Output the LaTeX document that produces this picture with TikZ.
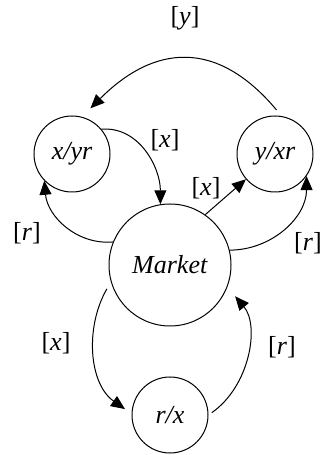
\documentclass[tikz,border=0pt]{standalone}
\usepackage{fontspec}
\setmainfont{Liberation Serif}
\usetikzlibrary{arrows.meta}

\begin{document}
\begin{tikzpicture}[
    x=1pt, y=1pt,
    font=\fontsize{26}{30}\selectfont,
    state/.style={draw, circle, line width=1pt, minimum size=76pt, inner sep=0pt},
    big/.style={state, minimum size=122pt},
    arr/.style={-{Triangle[length=14pt,width=12pt]}, line width=1pt},
    lbl/.style={inner sep=0pt}
]
\useasboundingbox (0,0) rectangle (324,455);

\node[big] (market) at (170,190) {\textit{Market}};
\node[state] (xyr) at (72,301) {\textit{x/yr}};
\node[state] (yxr) at (275,301) {\textit{y/xr}};
\node[state] (rx) at (170,40) {\textit{r/x}};

\node[lbl] (ly) at (185,437) {[\textit{y}]};
\node[lbl] (lxa) at (165,315) {[\textit{x}]};
\node[lbl] (lxb) at (206,267) {[\textit{x}]};
\node[lbl] (lra) at (27,222) {[\textit{r}]};
\node[lbl] (lrb) at (308,212) {[\textit{r}]};
\node[lbl] (lxc) at (56,112) {[\textit{x}]};
\node[lbl] (lrc) at (282,108) {[\textit{r}]};

\draw[arr, shorten <=8pt, shorten >=12pt] (yxr.80) to[out=130, in=45, looseness=1.3] (xyr.75);
\draw[arr] (xyr.40) to[out=5, in=90] (market.99);
\draw[arr] (market.55) -- (yxr.221);
\draw[arr] (market.158) to[out=185, in=-85] (xyr.224);
\draw[arr] (market.14) to[out=0, in=-90] (yxr.-35);
\draw[arr, shorten <=8pt, shorten >=8pt] (market.196) to[out=240, in=145] (rx.178);
\draw[arr, shorten <=4pt, shorten >=12pt] (rx.0) to[out=35, in=-50] (market.-21);
\end{tikzpicture}
\end{document}
